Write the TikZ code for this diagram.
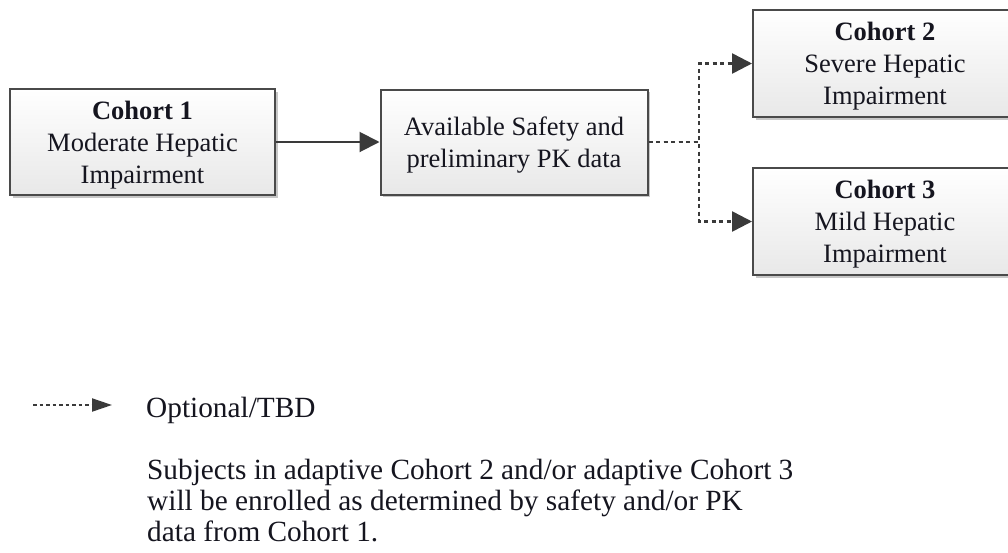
\documentclass[tikz,border=0pt]{standalone}
\usepackage{fontspec}
\setmainfont{Liberation Serif}
\usetikzlibrary{arrows.meta,shadows,calc}
\definecolor{edge}{HTML}{4A4A4A}
\definecolor{linkink}{HTML}{3A3A3A}
\definecolor{ink}{HTML}{15151F}
\definecolor{shade}{HTML}{E8E8E8}

\begin{document}
\begin{tikzpicture}[x=1pt,y=1pt,
  cohortbox/.style={draw=edge, line width=2pt, top color=white, bottom color=shade,
    drop shadow={shadow xshift=2.5pt, shadow yshift=-2.5pt, fill=black, opacity=0.22},
    text=ink, align=center, font=\fontsize{26.5}{32}\selectfont, inner sep=0pt,
    text depth=0pt},
  solidlink/.style={draw=linkink, line width=2pt, -{Triangle[length=20pt,width=20pt]}},
  optlink/.style={draw=linkink, line width=2.5pt, dash pattern=on 4pt off 3.5pt,
    -{Triangle[length=20pt,width=20pt]}},
  legendlink/.style={draw=linkink, line width=2pt, dash pattern=on 3.5pt off 3pt,
    -{Triangle[length=20pt,width=13pt]}},
  legendtext/.style={anchor=base west, align=left, text=ink, inner sep=0pt,
    font=\fontsize{29.3}{31}\selectfont}
  ]
% page frame
\clip (0,0) rectangle (1008,-552);
\fill[white] (0,0) rectangle (1008,-552);

% boxes
\node[cohortbox, minimum width=265pt, minimum height=106pt] (c1) at (142.5,-142)
  {\textbf{Cohort 1}\\Moderate Hepatic\\Impairment};
\node[cohortbox, minimum width=267pt, minimum height=105pt] (data) at (514,-142)
  {Available Safety and\\preliminary PK data};
\node[cohortbox, minimum width=264pt, minimum height=107pt] (c2) at (885,-63.5)
  {\textbf{Cohort 2}\\Severe Hepatic\\Impairment};
\node[cohortbox, minimum width=264pt, minimum height=107pt] (c3) at (885,-221.5)
  {\textbf{Cohort 3}\\Mild Hepatic\\Impairment};

% connectors
\draw[solidlink] (c1.east) -- (data.west);
\coordinate (split) at (699,-142);
\draw[optlink] (data.east) -- (split) |- (c2.west);
\draw[optlink] (data.east) -- (split) |- (c3.west);

% legend
\coordinate (la) at (33,-405);
\coordinate (lb) at (112,-405);
\draw[legendlink] (la) -- (lb);
\node[legendtext] (opt) at (146,-417) {Optional/TBD};
\node[legendtext] (note) at (147,-541)
  {Subjects in adaptive Cohort 2 and/or adaptive Cohort 3\\
   will be enrolled as determined by safety and/or PK\\
   data from Cohort 1.};
\end{tikzpicture}
\end{document}
